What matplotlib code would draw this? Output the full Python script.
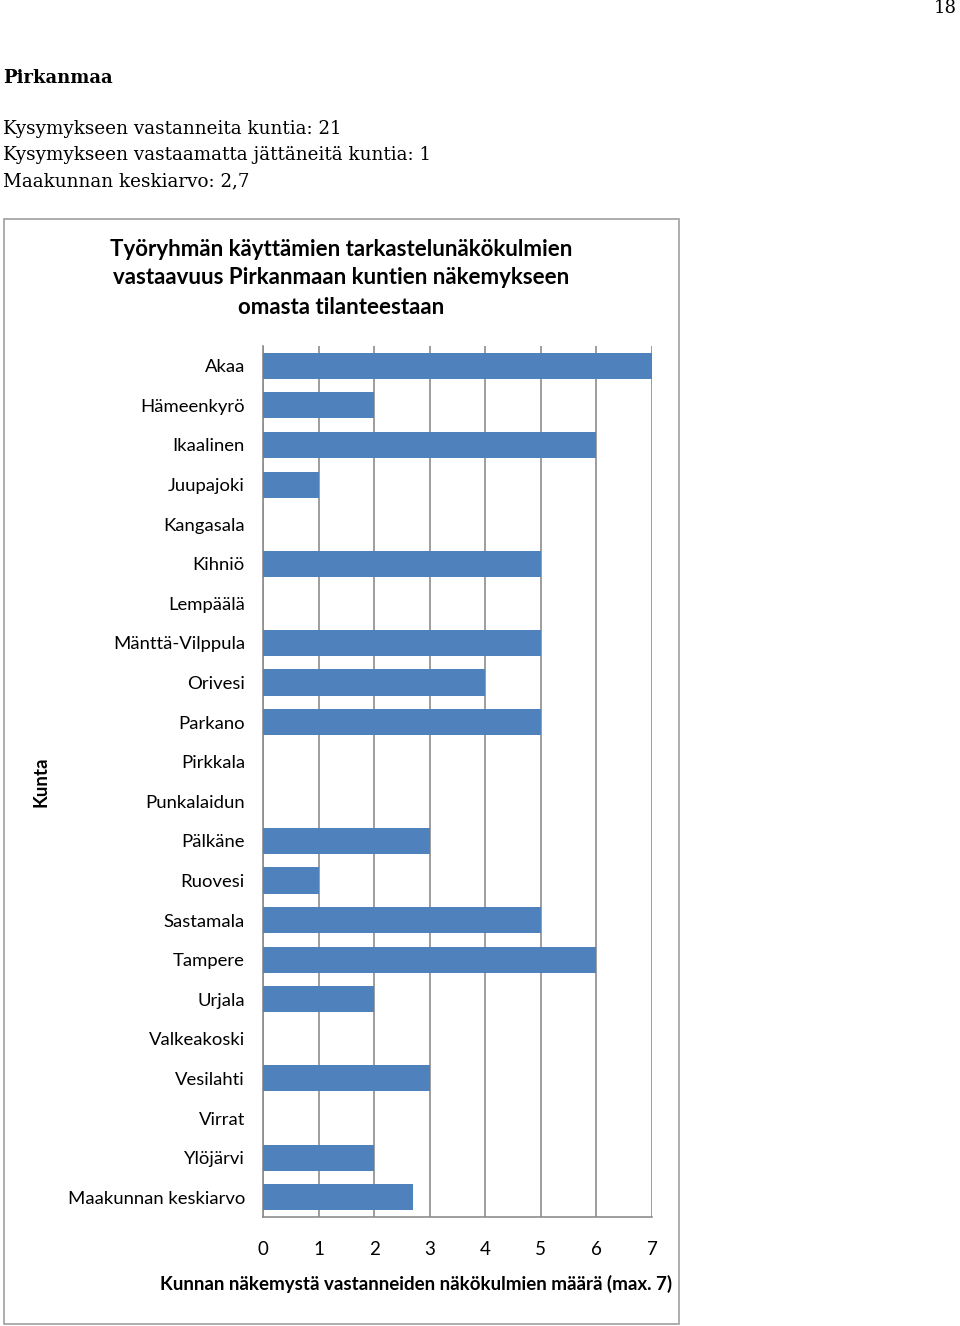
import numpy as np
import matplotlib.pyplot as plt
from matplotlib.patches import Rectangle

# Kunnat ja niiden näkökulmien määrä
kunnat = ['Akaa', 'Hämeenkyrö', 'Ikaalinen', 'Juupajoki', 'Kangasala', 'Kihniö',
          'Lempäälä', 'Mänttä-Vilppula', 'Orivesi', 'Parkano', 'Pirkkala',
          'Punkalaidun', 'Pälkäne', 'Ruovesi', 'Sastamala', 'Tampere', 'Urjala',
          'Valkeakoski', 'Vesilahti', 'Virrat', 'Ylöjärvi', 'Maakunnan keskiarvo']
arvot = [7, 2, 6, 1, 0, 5, 0, 5, 4, 5, 0, 0, 3, 1, 5, 6, 2, 0, 3, 0, 2, 2.7]
xticks = [0, 1, 2, 3, 4, 5, 6, 7]

W, H = 960, 1326
fig = plt.figure(figsize=(W / 100, H / 100), dpi=100)

def fx(px):
    return px / W

def fy(py):
    return 1 - py / H

serif = 'DejaVu Serif'
sans = 'Lato'

# page text
fig.text(fx(957), fy(8), '18', ha='right', va='center', fontsize=13, family=serif)
fig.text(fx(3), fy(78), 'Pirkanmaa', ha='left', va='center', fontsize=13,
         family=serif, weight='bold')
info = ['Kysymykseen vastanneita kuntia: 21',
        'Kysymykseen vastaamatta jättäneitä kuntia: 1',
        'Maakunnan keskiarvo: 2,7']
for i, line in enumerate(info):
    fig.text(fx(3), fy(129 + 26 * i), line, ha='left', va='center',
             fontsize=13.2, family=serif)

# chart frame
fig.patches.append(Rectangle((fx(4), fy(1324)), fx(679) - fx(4), fy(219) - fy(1324),
                             transform=fig.transFigure, fill=False,
                             edgecolor='#a0a0a0', linewidth=1.2))

title = ['Työryhmän käyttämien tarkastelunäkökulmien',
         'vastaavuus Pirkanmaan kuntien näkemykseen',
         'omasta tilanteestaan']
for i, line in enumerate(title):
    fig.text(fx(341), fy(249 + 29 * i), line, ha='center', va='center',
             fontsize=16, family=sans, weight='bold')

ax = fig.add_axes([fx(263), fy(1217), fx(652) - fx(263), fy(346) - fy(1217)])
y = np.arange(len(kunnat))
ax.barh(y, arvot, height=0.66, color='#4F81BD', zorder=3)
ax.set_ylim(len(kunnat) - 0.5, -0.5)
ax.set_xlim(0, 7)
ax.set_xticks(xticks)
ax.set_xticklabels([str(t) for t in xticks], fontsize=13.5, family=sans)
ax.set_yticks(y)
ax.set_yticklabels(kunnat, fontsize=13.3, family=sans)
ax.tick_params(axis='x', length=0, pad=17)
ax.tick_params(axis='y', length=0, pad=13)
ax.grid(axis='x', color='#8c8c8c', linewidth=1.2, zorder=0)
for s in ['top', 'right']:
    ax.spines[s].set_visible(False)
ax.spines['left'].set_color('#8c8c8c')
ax.spines['bottom'].set_color('#8c8c8c')
ax.spines['left'].set_linewidth(1.2)
ax.spines['bottom'].set_linewidth(1.2)

fig.text(fx(416), fy(1284), 'Kunnan näkemystä vastanneiden näkökulmien määrä (max. 7)',
         ha='center', va='center', fontsize=13.5, family=sans, weight='bold')
fig.text(fx(41), fy(782), 'Kunta', ha='center', va='center', rotation=90,
         fontsize=13.5, family=sans, weight='bold')

fig.savefig('out.png', dpi=100, facecolor='white')
